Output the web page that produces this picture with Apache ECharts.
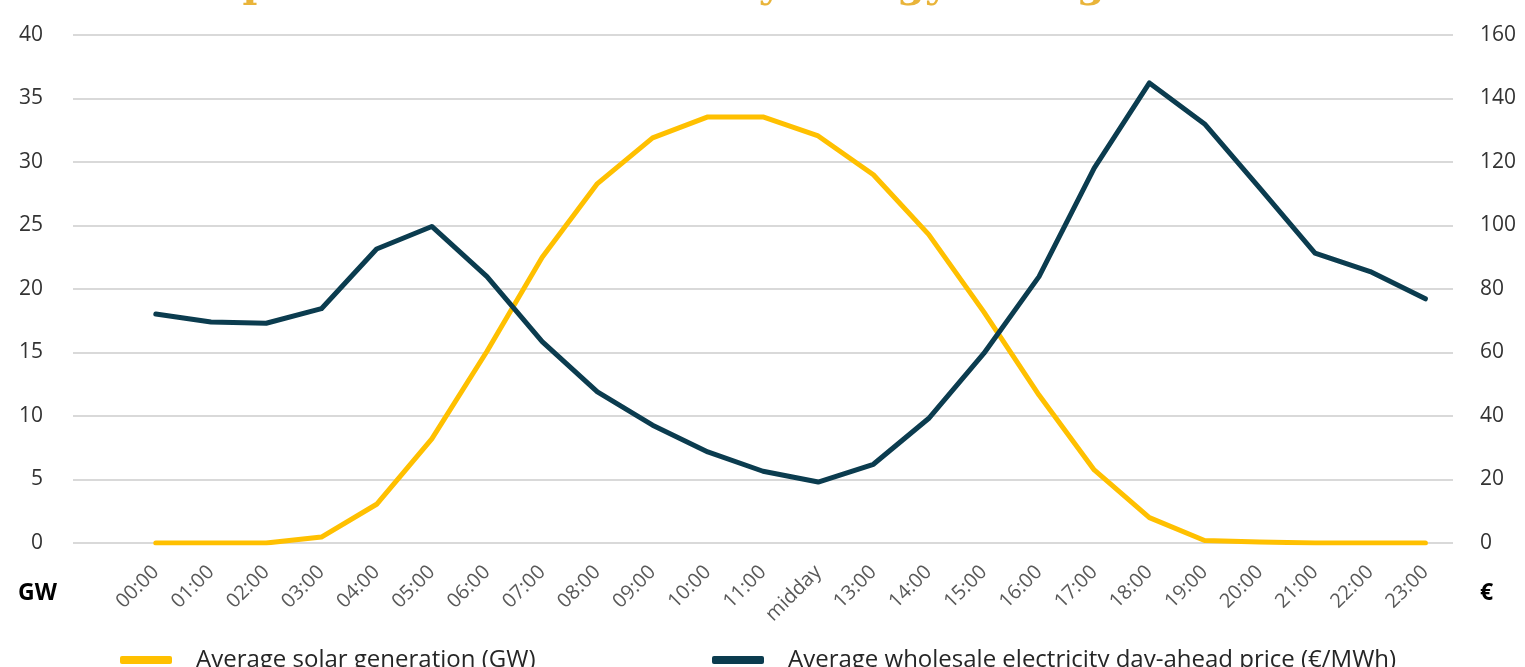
<!DOCTYPE html>
<html>
<head>
<meta charset="utf-8">
<script src="https://cdn.jsdelivr.net/npm/echarts@6/dist/echarts.min.js"></script>
<style>
  html, body { margin: 0; padding: 0; background: #ffffff; }
  #chart { width: 1525px; height: 667px; }
</style>
</head>
<body>
<div id="chart"></div>
<script>
// ---- data ----
const hours = ['00:00','01:00','02:00','03:00','04:00','05:00','06:00','07:00','08:00','09:00','10:00','11:00',
               'midday','13:00','14:00','15:00','16:00','17:00','18:00','19:00','20:00','21:00','22:00','23:00'];
const solarGW = [0, 0, 0, 0.47, 3.05, 8.2, 15.1, 22.5, 28.3, 31.9, 33.55, 33.55,
                 32.05, 29.0, 24.3, 18.2, 11.65, 5.75, 2.0, 0.2, 0.08, 0, 0, 0];
const priceEUR = [72.1, 69.6, 69.2, 73.8, 92.6, 99.7, 83.9, 63.4, 47.6, 37.1, 28.7, 22.6,
                  19.2, 24.8, 39.2, 59.7, 83.9, 118.1, 144.9, 132.0, 111.8, 91.3, 85.5, 76.9];
const leftTicks = { min: 0, max: 40, interval: 5 };
const rightTicks = { min: 0, max: 160, interval: 20 };
const solarName = 'Average solar generation (GW)';
const priceName = 'Average wholesale electricity day-ahead price (€/MWh)';
const titleText = 'prices to benefit battery energy storage assets';

// a leading empty slot on the category axis (as in the original layout)
const xCats = [''].concat(hours);
const solarSeries = [null].concat(solarGW);
const priceSeries = [null].concat(priceEUR);

const FONT = '"Open Sans", "Noto Sans", sans-serif';
const chart = echarts.init(document.getElementById('chart'), null, { renderer: 'canvas' });

const legendBase = {
  orient: 'horizontal',
  top: 648,
  padding: 0,
  itemWidth: 52,
  itemHeight: 8,
  icon: 'roundRect',
  textStyle: { fontFamily: FONT, fontSize: 24, color: '#262626', padding: [0, 0, 0, 19] }
};

chart.setOption({
  animation: false,
  backgroundColor: '#ffffff',
  grid: { left: 73, right: 72, top: 35, bottom: 124, containLabel: false },
  legend: [
    Object.assign({}, legendBase, { left: 120, data: [solarName] }),
    Object.assign({}, legendBase, { left: 712, data: [priceName] })
  ],
  xAxis: {
    type: 'category',
    data: xCats,
    boundaryGap: true,
    axisLine: { show: false },
    axisTick: { show: false },
    axisLabel: {
      interval: 0,
      rotate: 45,
      margin: 26,
      fontFamily: FONT,
      fontSize: 20,
      color: '#595959'
    },
    splitLine: { show: false }
  },
  yAxis: [
    {
      type: 'value',
      position: 'left',
      min: leftTicks.min, max: leftTicks.max, interval: leftTicks.interval,
      axisLine: { show: false },
      axisTick: { show: false },
      axisLabel: { margin: 30, fontFamily: FONT, fontSize: 21, color: '#333333' },
      splitLine: { show: true, lineStyle: { color: '#d9d9d9', width: 2 } }
    },
    {
      type: 'value',
      position: 'right',
      min: rightTicks.min, max: rightTicks.max, interval: rightTicks.interval,
      axisLine: { show: false },
      axisTick: { show: false },
      axisLabel: { margin: 27, fontFamily: FONT, fontSize: 21, color: '#333333' },
      splitLine: { show: false }
    }
  ],
  series: [
    {
      name: solarName,
      type: 'line',
      yAxisIndex: 0,
      data: solarSeries,
      symbol: 'none',
      color: '#FFC000',
      lineStyle: { color: '#FFC000', width: 5, cap: 'round', join: 'round' },
      z: 2
    },
    {
      name: priceName,
      type: 'line',
      yAxisIndex: 1,
      data: priceSeries,
      symbol: 'none',
      color: '#0b3c4f',
      lineStyle: { color: '#0b3c4f', width: 5, cap: 'round', join: 'round' },
      z: 3
    }
  ],
  graphic: [
    {
      type: 'text',
      left: 18,
      top: 582,
      style: { text: 'GW', font: 'bold 23px ' + FONT, fill: '#000000' }
    },
    {
      type: 'text',
      left: 1480,
      top: 582,
      style: { text: '€', font: 'bold 23px ' + FONT, fill: '#000000' }
    },
    {
      type: 'text',
      x: 762,
      y: 7,
      style: {
        text: titleText,
        font: 'bold 40px "DejaVu Serif", "Liberation Serif", serif',
        fill: '#E9B43A',
        align: 'center',
        verticalAlign: 'bottom'
      }
    }
  ]
});
</script>
</body>
</html>
